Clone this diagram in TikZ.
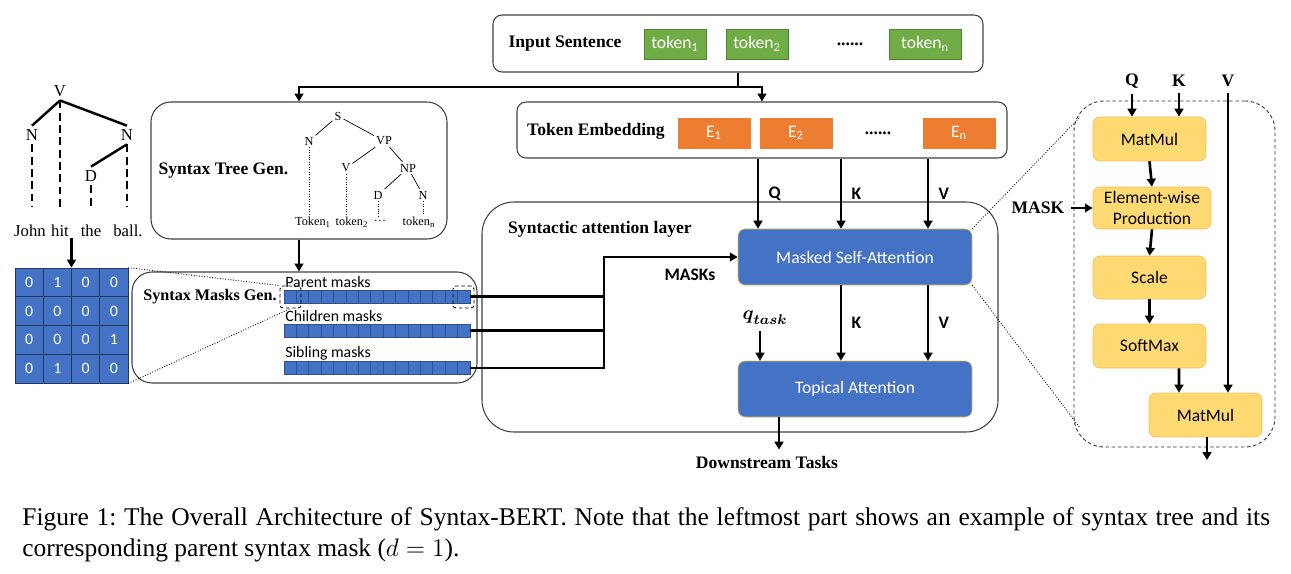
\documentclass[tikz,border=0pt]{standalone}
\usepackage{fontspec}
\setmainfont{Liberation Serif}
\newfontfamily\calibri{Carlito}
\usepackage{amsmath}
\usetikzlibrary{arrows.meta,positioning}

\definecolor{tokgreen}{RGB}{112,173,71}
\definecolor{tokgreenline}{RGB}{84,130,53}
\definecolor{embor}{RGB}{237,125,49}
\definecolor{attblue}{RGB}{68,114,196}
\definecolor{attedge}{RGB}{222,190,90}
\definecolor{opfill}{RGB}{255,218,115}
\definecolor{opedge}{RGB}{244,190,95}
\definecolor{cellline}{RGB}{31,56,100}
\definecolor{maskline}{RGB}{47,82,143}

\newlength\px
\setlength\px{0.02cm}

\begin{document}
\begin{tikzpicture}[x=0.02cm, y=-0.02cm,
  roundbox/.style={draw=black!75, line width=0.6pt, inner sep=0},
  flow/.style={line width=1.5pt, -{Triangle[length=4.5pt,width=5pt]}},
  wire/.style={line width=1.5pt},
  lbl/.style={font=\bfseries\fontsize{10}{12}\selectfont},
  sanslbl/.style={font=\calibri\bfseries\fontsize{10}{12}\selectfont},
  tokbox/.style={draw=tokgreenline, fill=tokgreen, text=white, minimum height=30*\px, inner sep=0, font=\calibri\fontsize{10}{12}\selectfont},
  embbox/.style={draw=embor, fill=embor, text=white, minimum height=30*\px, minimum width=72*\px, inner sep=0, font=\calibri\fontsize{10}{12}\selectfont},
  attbox/.style={draw=attedge, fill=attblue, text=white, rounded corners=7*\px, minimum width=234*\px, minimum height=56*\px, font=\calibri\fontsize{10}{12}\selectfont},
  opbox/.style={draw=opedge, fill=opfill, rounded corners=7*\px, minimum width=113*\px, minimum height=44*\px, inner sep=0, align=center, font=\calibri\fontsize{10}{11.5}\selectfont},
  treelbl/.style={inner sep=2pt, font=\fontsize{9.5}{11}\selectfont},
  smalltree/.style={inner sep=1pt, font=\fontsize{7}{8}\selectfont},
  stem/.style={line width=1.4pt, dash pattern=on 4.5pt off 2.5pt},
  cell/.style={draw=cellline, fill=attblue, text=white, minimum width=28.25*\px, minimum height=28.75*\px, inner sep=0, font=\calibri\fontsize{9}{10}\selectfont},
  maskbar/.style={draw=maskline, fill=attblue, minimum width=186*\px, minimum height=13*\px, inner sep=0},
  masklbl/.style={anchor=west, inner sep=0, font=\calibri\fontsize{9}{10}\selectfont},
  zoomline/.style={densely dotted, line width=0.5pt},
  ]
\useasboundingbox (0,0) rectangle (1291,574);

% input sentence and embedding
\node[roundbox, rounded corners=9*\px, minimum width=490*\px, minimum height=57*\px] (inbox) at (738,43.5) {};
\node[lbl] (inlbl) at (565,44) {Input Sentence};
\node[tokbox, minimum width=62*\px] (tok1) at (675,44) {token\textsubscript{1}};
\node[tokbox, minimum width=62*\px] (tok2) at (757,44) {token\textsubscript{2}};
\node[lbl] (tokdots) at (850,44) {......};
\node[tokbox, minimum width=72*\px] (tokn) at (925,44) {token\textsubscript{n}};

\node[roundbox, rounded corners=9*\px, minimum width=490*\px, minimum height=56*\px] (tokemb) at (762,130) {};
\node[lbl] (emblbl) at (596,131) {Token Embedding};
\node[embbox] (e1) at (714,133) {E\textsubscript{1}};
\node[embbox] (e2) at (796,133) {E\textsubscript{2}};
\node[lbl] (embdots) at (878,133) {......};
\node[embbox] (en) at (959,133) {E\textsubscript{n}};

% syntax tree gen
\node[roundbox, rounded corners=20*\px, minimum width=296*\px, minimum height=137*\px] (stree) at (299,170.5) {};
\node[lbl] (streelbl) at (223.5,171) {Syntax Tree Gen.};
\node[smalltree] (ts) at (338,116) {S};
\node[smalltree] (tn1) at (309,141) {N};
\node[smalltree] (tvp) at (384,141) {VP};
\node[smalltree] (tv) at (346,168) {V};
\node[smalltree] (tnp) at (408,168) {NP};
\node[smalltree] (td) at (378,195) {D};
\node[smalltree] (tn2) at (423,195) {N};
\node[smalltree] (tk1) at (313,222) {Token\textsubscript{1}};
\node[smalltree] (tk2) at (352,222) {token\textsubscript{2}};
\node[smalltree] (tk3) at (380,221) {\dots};
\node[smalltree] (tkn) at (419,222) {token\textsubscript{n}};
\draw[thin] (ts) -- (tn1);
\draw[thin] (ts) -- (tvp);
\draw[thin] (tvp) -- (tv);
\draw[thin] (tvp) -- (tnp);
\draw[thin] (tnp) -- (td);
\draw[thin] (tnp) -- (tn2);
\draw[densely dotted, thin] (tn1.south) -- (tn1.south |- tk1.north);
\draw[densely dotted, thin] (tv.south) -- (tv.south |- tk2.north);
\draw[densely dotted, thin] (td.south) -- (td.south |- tk3.north);
\draw[densely dotted, thin] (tn2.south) -- (tn2.south |- tkn.north);

% syntax masks gen
\node[roundbox, rounded corners=20*\px, minimum width=345*\px, minimum height=111*\px] (smask) at (304.5,327.5) {};
\node[lbl, font=\bfseries\fontsize{9.2}{11}\selectfont] (smasklbl) at (210,297) {Syntax Masks Gen.};
\foreach \b/\t/\y in {pbar/Parent masks/296.5, cbar/Children masks/330.5, sbar/Sibling masks/368}{
  \node[maskbar] (\b) at (377,\y) {};
  \foreach \i in {1,...,14}
    \draw[maskline, line width=0.5pt] (284+\i*12.4,\y-6.5) -- ++(0,13);
  \node[masklbl] at (285,\y-14.5) {\t};
}
\node[draw, line width=0.5pt, dash pattern=on 2pt off 1.5pt, rounded corners=3*\px, minimum width=21*\px, minimum height=22*\px, inner sep=0] (pfirst) at (290.5,297) {};
\node[draw, line width=0.5pt, dash pattern=on 2pt off 1.5pt, rounded corners=3*\px, minimum width=21*\px, minimum height=22*\px, inner sep=0] (plast) at (463.5,297) {};

% attention layer
\node[roundbox, rounded corners=32*\px, minimum width=516*\px, minimum height=230*\px] (attlayer) at (740,317) {};
\node[lbl, anchor=west] (attlbl) at (502,229) {Syntactic attention layer};
\node[attbox] (msa) at (855,257) {Masked Self-Attention};
\node[attbox] (topical) at (855,389) {Topical Attention};
\node[sanslbl] (masks) at (690,275) {MASKs};
\node[font=\fontsize{11}{12}\selectfont] (qtask) at (765,318) {$\boldsymbol{q}_{\boldsymbol{task}}$};
\node[lbl] (down) at (767,462) {Downstream Tasks};

% left example tree and mask
\node[treelbl] (lv) at (60,91) {V};
\node[treelbl] (ln1) at (32,135) {N};
\node[treelbl] (ln2) at (127,135) {N};
\node[treelbl] (ld) at (91,176) {D};
\node[treelbl] (wjohn) at (30,231) {John};
\node[treelbl] (whit) at (60,231) {hit};
\node[treelbl] (wthe) at (91,231) {the};
\node[treelbl] (wball) at (128,231) {ball.};
\coordinate (lbase) at (0,207);
\draw[line width=1.4pt] (lv.south) -- (ln1.north);
\draw[line width=1.4pt] (lv.south) -- (ln2.north);
\draw[line width=1.4pt] (ln2.south) -- (ld.north);
\draw[stem] (lv.south) -- (lv.south |- lbase);
\draw[stem] (ln1.south) -- (ln1.south |- lbase);
\draw[stem] (ln2.south) -- (ln2.south |- lbase);
\draw[stem] (ld.south) -- (ld.south |- lbase);

\node[inner sep=0, minimum width=113*\px, minimum height=115*\px] (mat) at (71.5,325.5) {};
\foreach \row [count=\r] in {{0,1,0,0},{0,0,0,0},{0,0,0,1},{0,1,0,0}}
  \foreach \v [count=\c] in \row
    \node[cell] (m\r\c) at (15+\c*28.25-14.125, 268+\r*28.75-14.375) {\v};
\coordinate (matin) at (71.5,238);
\draw[flow] (matin) -- (mat.north);
\draw[zoomline] (mat.north east) -- (pfirst.north west);
\draw[zoomline] (mat.south east) -- (pfirst.south);

% right panel
\node[draw=black!80, line width=0.5pt, dash pattern=on 2pt off 1.5pt, rounded corners=30*\px, minimum width=201*\px, minimum height=346*\px, inner sep=0] (panel) at (1174.5,274) {};
\node[opbox] (mm1) at (1149.5,139) {MatMul};
\node[opbox, minimum width=118*\px, minimum height=42*\px] (ewp) at (1152,208) {Element-wise\\Production};
\node[opbox, minimum height=43*\px] (scl) at (1149.5,277.5) {Scale};
\node[opbox] (smx) at (1149.5,346) {SoftMax};
\node[opbox] (mm2) at (1205.5,415) {MatMul};
\node[lbl] (pq) at (1132,81) {Q};
\node[lbl] (pk) at (1179,81) {K};
\node[lbl] (pv) at (1228,81) {V};
\node[lbl] (pmask) at (1038,208) {MASK};
\coordinate (pz1) at (1080,117);
\coordinate (pz2) at (1080,428);
\coordinate (pout) at (1207,460);

% connectors
\coordinate (split) at (738,87);
\draw[wire] (inbox.south) -- (split);
\draw[flow] (split) -| (stree.north);
\draw[flow] (split) -| (tokemb.north);
\draw[flow] (stree.south) -- (stree.south |- smask.north);

\coordinate (xq) at (758,0);
\coordinate (xk) at (841,0);
\coordinate (xv) at (928,0);
\coordinate (xqt) at (760,0);
\coordinate (xd) at (779,0);
\draw[flow] (tokemb.south -| xq) -- node[sanslbl, right=2pt] {Q} (msa.north -| xq);
\draw[flow] (tokemb.south -| xk) -- node[sanslbl, right=2pt] {K} (msa.north -| xk);
\draw[flow] (tokemb.south -| xv) -- node[sanslbl, right=2pt] {V} (msa.north -| xv);
\draw[flow] (msa.south -| xk) -- node[sanslbl, right=2pt] {K} (topical.north -| xk);
\draw[flow] (msa.south -| xv) -- node[sanslbl, right=2pt] {V} (topical.north -| xv);
\draw[flow] (qtask.south -| xqt) -- (topical.north -| xqt);
\draw[flow] (topical.south -| xd) -- (down.north -| xd);

\coordinate (mjoin) at (604,257);
\draw[wire] (pbar.east) -- (pbar.east -| mjoin);
\draw[wire] (cbar.east) -- (cbar.east -| mjoin);
\draw[flow] (sbar.east) -| (mjoin) -- (msa.west);

\draw[zoomline] (msa.north east) -- (pz1);
\draw[zoomline] (msa.south east) -- (pz2);
\draw[flow] (pq.south) -- (pq.south |- mm1.north);
\draw[flow] (pk.south) -- (pk.south |- mm1.north);
\draw[flow] (pv.south) -- (pv.south |- mm2.north);
\draw[flow] (mm1.south) -- (ewp.north);
\draw[flow] (ewp.south) -- (scl.north);
\draw[flow] (scl.south) -- (smx.north);
\draw[flow] ([xshift=29.5*\px]smx.south) -- ([xshift=-26.5*\px]mm2.north);
\draw[flow] (mm2.south -| pout) -- (pout);
\draw[flow] (pmask.east) -- (ewp.west);

% caption
\node[anchor=north west, inner sep=0, text width=24.96cm, align=justify, font=\fontsize{14.5}{17.6}\selectfont] (cap) at (22,507)
  {\frenchspacing Figure 1: The Overall Architecture of Syntax-BERT. Note that the leftmost part shows an example of syntax tree and its\linebreak corresponding parent syntax mask ($d=1$).};
\end{tikzpicture}
\end{document}
